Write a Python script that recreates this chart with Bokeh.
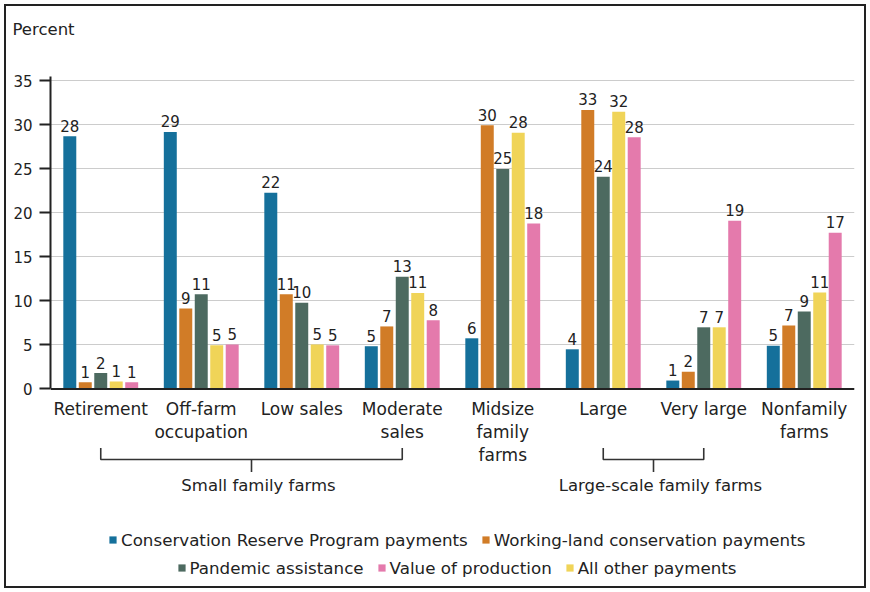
from bokeh.plotting import figure
from bokeh.models import Range1d, FixedTicker, Span, Legend, LegendItem, ColumnDataSource
from bokeh.core.properties import value
from bokeh.embed import file_html
from bokeh.resources import INLINE

# ---------------- data ----------------
categories = ["Retirement", "Off-farm\noccupation", "Low sales", "Moderate\nsales",
              "Midsize\nfamily\nfarms", "Large", "Very large", "Nonfamily\nfarms"]

crp_vals      = [28.7, 29.2, 22.3, 4.85, 5.75, 4.5, 0.95, 4.9]
working_vals  = [0.75, 9.15, 10.75, 7.1, 29.95, 31.7, 1.95, 7.2]
pandemic_vals = [1.8, 10.75, 9.8, 12.75, 25.0, 24.1, 7.0, 8.8]
other_vals    = [0.85, 4.95, 5.05, 10.9, 29.1, 31.5, 7.0, 10.95]
valprod_vals  = [0.75, 5.05, 4.95, 7.8, 18.8, 28.6, 19.1, 17.75]

crp_lbl      = [28, 29, 22, 5, 6, 4, 1, 5]
working_lbl  = [1, 9, 11, 7, 30, 33, 2, 7]
pandemic_lbl = [2, 11, 10, 13, 25, 24, 7, 9]
other_lbl    = [1, 5, 5, 11, 28, 32, 7, 11]
valprod_lbl  = [1, 5, 5, 8, 18, 28, 19, 17]

y_ticks = [0, 5, 10, 15, 20, 25, 30, 35]

brackets = [("Small family farms", 0, 3), ("Large-scale family farms", 5, 6)]

series_names = ["Conservation Reserve Program payments", "Working-land conservation payments",
                "Pandemic assistance", "All other payments", "Value of production"]

# ---------------- style / layout ----------------
FONT = "DejaVu Sans"
TEXT = "#222222"
COLORS = ["#15709b", "#d17c27", "#4d6a60", "#f0d458", "#e47aac"]

W, H = 862, 584
CANVAS_X0, CANVAS_Y0 = 6, 6     # window position of canvas (4px offset + 2px border)
Y0_WIN = 388.4        # window y of value 0
SCALE = 8.8           # px per percent
FRAME_TOP_WIN = 40
FRAME_BOT_WIN = CANVAS_Y0 + H
FRAME_LEFT_WIN = 50
FRAME_RIGHT_WIN = 854


def ydata(win_y):
    return (Y0_WIN - win_y) / SCALE


ymax = ydata(FRAME_TOP_WIN)
ymin = ydata(FRAME_BOT_WIN)

p = figure(width=W, height=H, x_range=Range1d(0, len(categories)), y_range=Range1d(ymin, ymax),
           output_backend="svg", toolbar_location=None, x_axis_location=None,
           min_border_left=FRAME_LEFT_WIN - CANVAS_X0,
           min_border_right=W - (FRAME_RIGHT_WIN - CANVAS_X0),
           min_border_top=FRAME_TOP_WIN - CANVAS_Y0, min_border_bottom=0,
           title="Percent")
p.styles = {"margin-left": "4px", "margin-top": "4px", "border": "2px solid #222222"}
p.outline_line_color = None
p.background_fill_color = "white"
p.border_fill_color = "white"

p.title.align = "left"
p.title.offset = 12 - FRAME_LEFT_WIN
p.title.standoff = 3
p.title.text_font = FONT
p.title.text_font_size = "16.5px"
p.title.text_font_style = "normal"
p.title.text_color = TEXT

yax = p.yaxis[0]
yax.ticker = FixedTicker(ticks=y_ticks)
yax.bounds = (0, 35.45)
yax.axis_line_width = 2
yax.axis_line_color = TEXT
yax.major_tick_line_width = 2
yax.major_tick_line_color = TEXT
yax.major_tick_out = 11
yax.major_tick_in = 0
yax.minor_tick_out = 0
yax.minor_tick_in = 0
yax.major_label_standoff = 7
yax.major_label_text_font = FONT
yax.major_label_text_font_size = "15px"
yax.major_label_text_color = TEXT

p.ygrid.ticker = FixedTicker(ticks=y_ticks)
p.ygrid.grid_line_color = "#cccccc"
p.ygrid.grid_line_width = 1
p.xgrid.visible = False

centers = [i + 0.5 for i in range(len(categories))]
STEP = 0.154
BAR_W = 0.129
LABEL_GAP = 10.5  # px between bar top and label baseline

all_vals = [crp_vals, working_vals, pandemic_vals, other_vals, valprod_vals]
all_lbls = [crp_lbl, working_lbl, pandemic_lbl, other_lbl, valprod_lbl]

renderers = []
for k, (vals, lbls, color) in enumerate(zip(all_vals, all_lbls, COLORS)):
    xs = [c + (k - 2) * STEP for c in centers]
    src = ColumnDataSource(dict(x=xs, top=vals, ly=[v + LABEL_GAP / SCALE for v in vals],
                                t=[str(v) for v in lbls]))
    r = p.vbar(x="x", top="top", bottom=0, width=BAR_W, source=src, fill_color=color, line_color=None)
    renderers.append(r)
    p.text(x="x", y="ly", text="t", source=src, text_align="center", text_baseline="alphabetic",
           text_font=value(FONT), text_font_size="15px", text_color=TEXT)

p.add_layout(Span(location=0, dimension="width", line_color=TEXT, line_width=2))

# category labels
p.text(x=centers, y=[ydata(398)] * len(categories), text=categories, text_align="center",
       text_baseline="top", text_font=value(FONT), text_font_size="17px", text_line_height=1.16,
       text_color=TEXT)

# brackets
bx, by, tx, ty, tt = [], [], [], [], []
for name, i0, i1 in brackets:
    xl, xr = centers[i0], centers[i1]
    xm = (xl + xr) / 2
    bx.append([xl, xl, xr, xr]); by.append([ydata(447.5), ydata(459), ydata(459), ydata(447.5)])
    bx.append([xm, xm]); by.append([ydata(459), ydata(471.5)])
    tx.append(xm); ty.append(ydata(485)); tt.append(name)
p.multi_line(xs=bx, ys=by, line_color="#333333", line_width=1.6)
p.text(x=tx, y=ty, text=tt, x_offset=7, text_align="center", text_baseline="alphabetic",
       text_font=value(FONT), text_font_size="16.5px", text_color=TEXT)

# legends (two centred rows)
leg_style = dict(orientation="horizontal", glyph_width=9, glyph_height=9, label_standoff=4,
                 spacing=13, padding=0, margin=0, border_line_alpha=0, background_fill_alpha=0,
                 label_height=20, label_text_font=FONT, label_text_font_size="16.7px",
                 label_text_color=TEXT)
leg1 = Legend(items=[LegendItem(label=series_names[0], renderers=[renderers[0]]),
                     LegendItem(label=series_names[1], renderers=[renderers[1]])],
              location=(108 - FRAME_LEFT_WIN, FRAME_BOT_WIN - 549.5), **leg_style)
leg2 = Legend(items=[LegendItem(label=series_names[2], renderers=[renderers[2]]),
                     LegendItem(label=series_names[4], renderers=[renderers[4]]),
                     LegendItem(label=series_names[3], renderers=[renderers[3]])],
              location=(176.5 - FRAME_LEFT_WIN, FRAME_BOT_WIN - 577.5), **leg_style)
p.add_layout(leg1)
p.add_layout(leg2)

open("out.html", "w").write(file_html(p, INLINE))
